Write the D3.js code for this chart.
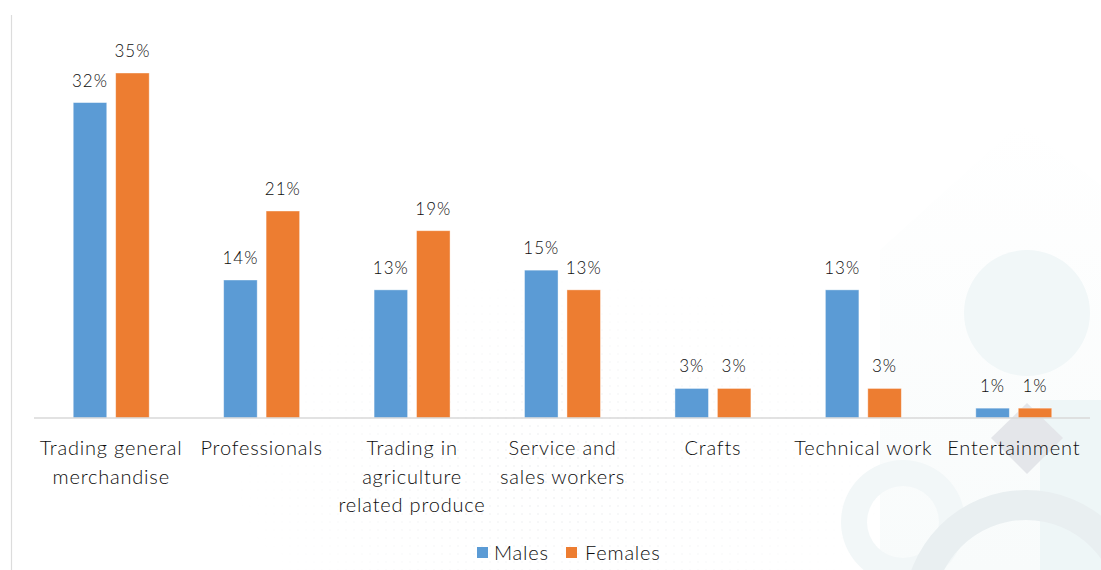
<!DOCTYPE html>
<html>
<head>
<meta charset="utf-8">
<script src="https://cdn.jsdelivr.net/npm/d3@7"></script>
<style>
  html, body { margin: 0; padding: 0; background: #ffffff; }
  svg { display: block; }
  text { font-family: Lato, "Noto Sans", sans-serif; fill: #0d0d0d; font-weight: 300; }
</style>
</head>
<body>
<svg id="chart" width="1101" height="570"></svg>
<script>
// Occupation shares by sex (%)
const categories = [
  "Trading general merchandise",
  "Professionals",
  "Trading in agriculture related produce",
  "Service and sales workers",
  "Crafts",
  "Technical work",
  "Entertainment"
];
const categoryLines = [
  ["Trading general", "merchandise"],
  ["Professionals"],
  ["Trading in", "agriculture", "related produce"],
  ["Service and", "sales workers"],
  ["Crafts"],
  ["Technical work"],
  ["Entertainment"]
];
const seriesNames = ["Males", "Females"];
const males   = [32, 14, 13, 15, 3, 13, 1];
const females = [35, 21, 19, 13, 3, 3, 1];
const colors = ["#5B9BD5", "#ED7D31"];

const svg = d3.select("#chart");
const W = 1101, H = 570;

// ---- soft decorative backdrop ----
const defs = svg.append("defs");
const dots = defs.append("pattern").attr("id", "dots")
  .attr("width", 8).attr("height", 8).attr("patternUnits", "userSpaceOnUse");
dots.append("circle").attr("cx", 2).attr("cy", 2).attr("r", 0.8).attr("fill", "#e6e8ea");
const fade = defs.append("radialGradient").attr("id", "fade")
  .attr("cx", 0.5).attr("cy", 0.5).attr("r", 0.5);
fade.append("stop").attr("offset", "0%").attr("stop-color", "#fff").attr("stop-opacity", 1);
fade.append("stop").attr("offset", "100%").attr("stop-color", "#fff").attr("stop-opacity", 0);
const mask = defs.append("mask").attr("id", "dotmask");
mask.append("ellipse").attr("cx", 560).attr("cy", 470).attr("rx", 330).attr("ry", 200).attr("fill", "url(#fade)");

const tri = defs.append("linearGradient").attr("id", "tri")
  .attr("x1", 0).attr("y1", 0).attr("x2", 0).attr("y2", 1);
tri.append("stop").attr("offset", "0%").attr("stop-color", "#ffffff");
tri.append("stop").attr("offset", "100%").attr("stop-color", "#f8fbfb");

const bg = svg.append("g");
bg.append("rect").attr("width", W).attr("height", H).attr("fill", "url(#dots)").attr("mask", "url(#dotmask)");
bg.append("path").attr("d", "M1020,123 L1101,185 L1101,570 L880,570 L880,250 Z").attr("fill", "url(#tri)");
bg.append("circle").attr("cx", 1027).attr("cy", 313).attr("r", 63).attr("fill", "#f1f7f8");
bg.append("path")
  .attr("d", d3.arc()({innerRadius: 36, outerRadius: 62, startAngle: 0, endAngle: 2 * Math.PI}))
  .attr("transform", "translate(903,522)").attr("fill", "#f2f7f8");
bg.append("rect").attr("x", 1040).attr("y", 400).attr("width", 61).attr("height", 170).attr("fill", "#eef6f7");
bg.append("path")
  .attr("d", d3.arc()({innerRadius: 92, outerRadius: 122, startAngle: 0, endAngle: 2 * Math.PI}))
  .attr("transform", "translate(1026,612)").attr("fill", "#e9eff1");
bg.append("path").attr("d", "M1027,403 L1063,438 L1027,474 L991,438 Z").attr("fill", "#e4e6ea");

// left frame rule
svg.append("line").attr("x1", 11.5).attr("x2", 11.5).attr("y1", 15).attr("y2", H)
  .attr("stroke", "#dcdcdc").attr("stroke-width", 1.2);

// ---- scales ----
const x0 = d3.scaleBand().domain(categories).range([36, 1089])
  .paddingInner(0.495).paddingOuter(0.2475);
const x1 = d3.scaleBand().domain(seriesNames).range([0, x0.bandwidth()]).paddingInner(0.21);
const y = d3.scaleLinear().domain([0, 35]).range([418, 73]);

const rows = categories.map((c, i) => ({ cat: c, vals: [males[i], females[i]] }));

const groups = svg.append("g").selectAll("g").data(rows).join("g")
  .attr("transform", d => `translate(${x0(d.cat)},0)`);

groups.selectAll("rect").data(d => d.vals.map((v, k) => ({ v, k })))
  .join("rect")
  .attr("x", d => x1(seriesNames[d.k]))
  .attr("width", x1.bandwidth())
  .attr("y", d => y(d.v))
  .attr("height", d => y(0) - y(d.v))
  .attr("fill", d => colors[d.k])
  .attr("stroke", "#ffffff").attr("stroke-opacity", 0.5).attr("stroke-width", 0.8);

groups.selectAll("text.val").data(d => d.vals.map((v, k) => ({ v, k })))
  .join("text").attr("class", "val")
  .attr("x", d => x1(seriesNames[d.k]) + x1.bandwidth() / 2)
  .attr("y", d => y(d.v) - 16)
  .attr("text-anchor", "middle")
  .style("font-size", "17px")
  .style("letter-spacing", "1px")
  .text(d => d.v + "%");

// category axis
const xAxis = svg.append("g").attr("transform", `translate(0,${y(0)})`)
  .call(d3.axisBottom(x0).tickSize(0).tickFormat(""));
xAxis.select(".domain").attr("stroke", "#d9d9d9").attr("stroke-width", 1.5)
  .attr("d", `M34,0H1090`);

const labels = svg.append("g").selectAll("text").data(categories).join("text")
  .attr("x", d => x0(d) + x0.bandwidth() / 2)
  .attr("y", 455)
  .attr("text-anchor", "middle")
  .style("font-size", "20px")
  .style("letter-spacing", "0.8px");
labels.each(function (d, i) {
  d3.select(this).selectAll("tspan").data(categoryLines[i]).join("tspan")
    .attr("x", x0(d) + x0.bandwidth() / 2)
    .attr("dy", (t, j) => j === 0 ? 0 : 28.5)
    .text(t => t);
});

// legend
const legendX = [477, 566];
const legend = svg.append("g").selectAll("g").data(seriesNames).join("g")
  .attr("transform", (d, i) => `translate(${legendX[i]},547)`);
legend.append("rect").attr("width", 11).attr("height", 11).attr("fill", (d, i) => colors[i]);
legend.append("text").attr("x", (d, i) => i === 0 ? 17 : 19).attr("y", 12.5)
  .style("font-size", "20px").style("letter-spacing", "0.8px").text(d => d);
</script>
</body>
</html>
